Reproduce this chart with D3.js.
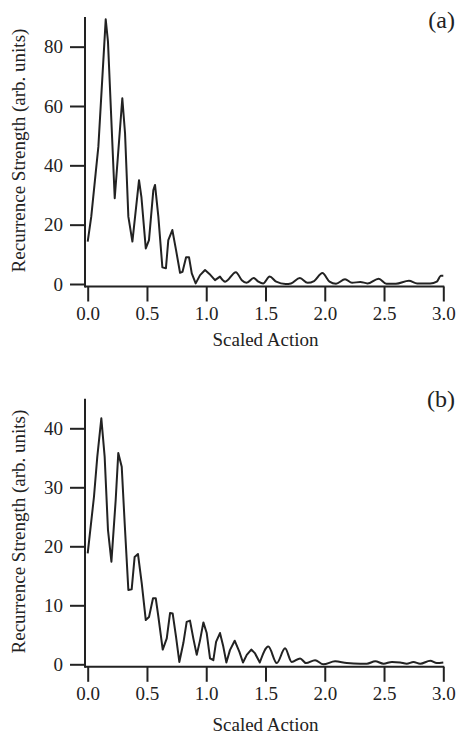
<!DOCTYPE html>
<html>
  <head>
    <meta charset="utf-8">
    <title>Recurrence spectra</title>
    <script src="https://d3js.org/d3.v7.min.js"></script>
    <style>
      body { margin: 0; background: #fff; }
      text { font-family: "Liberation Serif", "Times New Roman", serif; fill: #222; }
    </style>
  </head>
  <body>
    <div id="chart"></div>
    <script>
      // panel (a): scaled action vs recurrence strength
      var actionA = [0, 0.03, 0.067, 0.09, 0.152, 0.171, 0.228, 0.292, 0.315, 0.343, 0.377, 0.433, 0.453, 0.49,
        0.517, 0.554, 0.568, 0.596, 0.63, 0.66, 0.68, 0.714, 0.745, 0.779, 0.8, 0.83, 0.855, 0.878, 0.911,
        0.948, 0.99, 1.027, 1.074, 1.116, 1.16, 1.25, 1.3, 1.34, 1.4, 1.44, 1.48, 1.535, 1.59, 1.67, 1.715,
        1.79, 1.855, 1.91, 1.98, 2.04, 2.095, 2.171, 2.23, 2.3, 2.36, 2.455, 2.52, 2.6, 2.71, 2.78, 2.89,
        2.945, 2.98, 3.0];
      var strengthA = [14.3, 22.7, 37.3, 46.3, 89.2, 81.7, 28.9, 62.6, 50.8, 22.7, 14.3, 35, 29.4, 12,
        14.8, 31.7, 33.4, 22.7, 5.6, 5.3, 14.8, 18.2, 11.5, 3.8, 4.1, 9, 9, 3.6, 0.2,
        3, 4.7, 3.4, 1.3, 2.5, 0.8, 4.0, 1.3, 0.4, 2.0, 0.8, 0.2, 2.5, 0.8, 0, 0.2,
        2.0, 0.4, 1.0, 3.7, 0.8, 0.1, 1.6, 0.4, 0.7, 0.2, 1.8, 0.1, 0.1, 1.1, 0.2, 0.2,
        0.8, 2.8, 2.8];

      // panel (b)
      var actionB = [0, 0.053, 0.081, 0.115, 0.143, 0.171, 0.2, 0.236, 0.258, 0.287, 0.312, 0.343, 0.371,
        0.396, 0.424, 0.456, 0.49, 0.517, 0.551, 0.574, 0.596, 0.633, 0.667, 0.695, 0.717, 0.745, 0.773,
        0.807, 0.835, 0.863, 0.891, 0.92, 0.948, 0.976, 1.004, 1.032, 1.06, 1.083, 1.116, 1.144, 1.17,
        1.2, 1.24, 1.28, 1.31, 1.342, 1.38, 1.41, 1.452, 1.524, 1.595, 1.665, 1.721, 1.792, 1.842, 1.918,
        1.988, 2.087, 2.186, 2.3, 2.355, 2.426, 2.496, 2.567, 2.636, 2.692, 2.748, 2.805, 2.89, 2.945, 3.0];
      var strengthB = [18.8, 28.4, 35.2, 41.7, 35.2, 22.8, 17.4, 27.8, 35.8, 33.5, 23.9, 12.6, 12.7,
        18.2, 18.7, 13.7, 7.5, 8, 11.2, 11.2, 8.1, 2.5, 4.4, 8.7, 8.6, 4.7, 0.4,
        3.6, 7.2, 7.4, 4.4, 1.6, 4.1, 7.1, 5.3, 1.0, 0.7, 3.8, 5.3, 3.0, 0.3,
        2.4, 4.0, 2.1, 0.3, 1.6, 2.5, 1.9, 0.3, 3.0, 0.2, 2.7, 0.4, 1.0, 0.2, 0.7,
        0.0, 0.5, 0.2, 0.1, 0.1, 0.5, 0.1, 0.4, 0.3, 0.1, 0.4, 0.1, 0.6, 0.2, 0.3];

      var xTicks = [0, 0.5, 1, 1.5, 2, 2.5, 3];
      var yTicksA = [0, 20, 40, 60, 80];
      var yTicksB = [0, 10, 20, 30, 40];
      var xTitle = "Scaled Action";
      var yTitle = "Recurrence Strength (arb. units)";

      var width = 456;
      var height = 745;

      var svg = d3.select("#chart")
        .append("svg")
        .attr("width", width)
        .attr("height", height);

      // layout for the two stacked panels
      // smoothFrom: where the spiky trace turns into the small rounded wiggles
      var panels = [
        { actions: actionA, values: strengthA, yMax: 90, yTicks: yTicksA, tag: "(a)",
          top: 17, zero: 284, tagY: 28, titleY: 346, smoothFrom: 1.116 },
        { actions: actionB, values: strengthB, yMax: 45, yTicks: yTicksB, tag: "(b)",
          top: 398.8, zero: 664.3, tagY: 407, titleY: 731, smoothFrom: 1.452 }
      ];

      var axisX = 85;   // left axis line sits a little left of x = 0
      var color = "#222";

      panels.forEach(function(p) {
        var x = d3.scaleLinear().domain([0, 3]).range([87.7, 443.3]);
        var y = d3.scaleLinear().domain([0, p.yMax]).range([p.zero, p.top]);
        var axisY = p.zero + 2.5;

        var g = svg.append("g");

        // x axis
        var gx = g.append("g")
          .attr("transform", "translate(0," + axisY + ")")
          .call(d3.axisBottom(x)
            .tickValues(xTicks)
            .tickFormat(d3.format(".1f"))
            .tickSize(15)
            .tickPadding(5));

        // y axis
        var gy = g.append("g")
          .attr("transform", "translate(" + axisX + ",0)")
          .call(d3.axisLeft(y)
            .tickValues(p.yTicks)
            .tickSize(15)
            .tickPadding(7));

        [gx, gy].forEach(function(a) {
          a.select(".domain").remove();
          a.selectAll("line").attr("stroke", color).attr("stroke-width", 2);
          a.selectAll("text")
            .style("font-family", "'Liberation Serif', serif")
            .style("font-size", "19px")
            .attr("fill", color);
        });

        // axis lines drawn by hand so they meet at the corner
        g.append("line")
          .attr("x1", axisX).attr("x2", x(3) + 1)
          .attr("y1", axisY).attr("y2", axisY)
          .attr("stroke", color).attr("stroke-width", 2);
        g.append("line")
          .attr("x1", axisX).attr("x2", axisX)
          .attr("y1", y(p.yMax)).attr("y2", axisY + 1)
          .attr("stroke", color).attr("stroke-width", 2);

        // the curve: straight segments for the big spikes, smooth for the tail
        var pts = d3.zip(p.actions, p.values);
        var spiky = pts.filter(function(d) { return d[0] <= p.smoothFrom; });
        var tail = pts.filter(function(d) { return d[0] >= p.smoothFrom; });

        var sharpLine = d3.line()
          .x(function(d) { return x(d[0]); })
          .y(function(d) { return y(d[1]); });
        var softLine = d3.line()
          .x(function(d) { return x(d[0]); })
          .y(function(d) { return y(d[1]); })
          .curve(d3.curveMonotoneX);

        g.append("path")
          .attr("d", sharpLine(spiky) + softLine(tail).replace(/^M/, "L"))
          .attr("fill", "none")
          .attr("stroke", color)
          .attr("stroke-width", 2)
          .attr("stroke-linejoin", "round");

        // titles
        g.append("text")
          .attr("x", (x(0) + x(3)) / 2)
          .attr("y", p.titleY)
          .attr("text-anchor", "middle")
          .style("font-size", "19px")
          .text(xTitle);

        g.append("text")
          .attr("transform", "translate(25," + (p.top + p.zero) / 2 + ") rotate(-90)")
          .attr("text-anchor", "middle")
          .style("font-size", "19px")
          .text(yTitle);

        g.append("text")
          .attr("x", 455)
          .attr("y", p.tagY)
          .attr("text-anchor", "end")
          .style("font-size", "24px")
          .text(p.tag);
      });
    </script>
  </body>
</html>
